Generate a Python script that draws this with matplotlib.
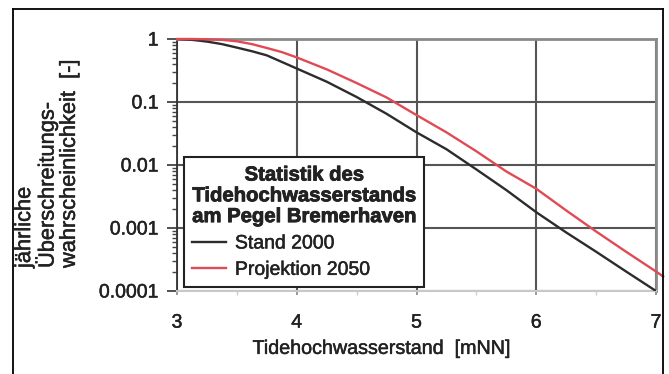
import matplotlib
matplotlib.use("Agg")
import matplotlib.pyplot as plt
import matplotlib.patheffects as pe
from matplotlib.lines import Line2D
from matplotlib.ticker import LogLocator, FixedLocator, NullFormatter

plt.rcParams['font.family'] = ['Liberation Sans', 'DejaVu Sans']

# Water level [mNN]
level = [3.0, 3.125, 3.25, 3.375, 3.5, 3.625, 3.75, 4.0, 4.25, 4.5, 4.75,
         5.0, 5.25, 5.5, 5.75, 6.0, 6.25, 6.5, 6.75, 7.0]
# Annual exceedance probability, status 2000
p_2000 = [1.0, 0.97, 0.91, 0.83, 0.73, 0.64, 0.55, 0.34, 0.21, 0.12, 0.065,
          0.033, 0.0178, 0.0085, 0.0040, 0.00178, 0.00085, 0.00042,
          0.000204, 0.0001]
# Annual exceedance probability, projection 2050
level_2050 = [3.0, 3.125, 3.25, 3.375, 3.5, 3.625, 3.75, 3.875, 4.0, 4.25,
              4.5, 4.75, 5.0, 5.25, 5.5, 5.75, 6.0, 6.25, 6.5, 6.75, 7.0,
              7.06]
p_2050 = [1.0, 1.0, 0.99, 0.97, 0.92, 0.83, 0.72, 0.62, 0.51, 0.33, 0.20,
          0.118, 0.062, 0.033, 0.0165, 0.0079, 0.0042, 0.0019, 0.00088,
          0.00042, 0.000204, 0.00017]

x_ticks = [3, 4, 5, 6, 7]
x_ticklabels = ['3', '4', '5', '6', '7']
y_ticks = [1e-4, 1e-3, 1e-2, 1e-1, 1]
y_ticklabels = ['0.0001', '0.001', '0.01', '0.1', '1']

legend_title = 'Statistik des\nTidehochwasserstands\nam Pegel Bremerhaven'
label_2000 = 'Stand 2000'
label_2050 = 'Projektion 2050'
x_label = 'Tidehochwasserstand  [mNN]'
y_label = 'jährliche\nÜberschreitungs-\nwahrscheinlichkeit  [-]'

TEXT = '#222222'
heavy = [pe.withStroke(linewidth=0.35, foreground=TEXT)]

W, H = 669, 374
fig = plt.figure(figsize=(W / 100, H / 100), dpi=100)
ax = fig.add_axes([177 / W, 1 - 291 / H, (656 - 177) / W, (291 - 39) / H])

ax.set_yscale('log')
ax.set_xlim(3, 7)
ax.set_ylim(1e-4, 1)

ax.plot(level, p_2000, color='#2c2c2c', lw=1.7, label=label_2000, zorder=3)
ax.plot(level_2050, p_2050, color='#e04a55', lw=1.7, label=label_2050,
        zorder=3, clip_on=False)

# grid and spines
ax.grid(True, which='major', color='#555555', lw=1.5, zorder=1)
ax.grid(False, which='minor')
for side in ['top', 'right']:
    ax.spines[side].set_color('#8a8a8a')
    ax.spines[side].set_linewidth(2.0)
ax.spines['bottom'].set_color('#c8c8c8')
ax.spines['bottom'].set_linewidth(1.5)
ax.spines['left'].set_color('#333333')
ax.spines['left'].set_linewidth(1.3)

ax.xaxis.set_major_locator(FixedLocator(x_ticks))
ax.set_xticklabels(x_ticklabels)
ax.xaxis.set_minor_locator(FixedLocator([3.5, 4.5, 5.5, 6.5]))
ax.yaxis.set_major_locator(FixedLocator(y_ticks))
ax.set_yticklabels(y_ticklabels)
ax.yaxis.set_minor_locator(LogLocator(base=10, subs=range(2, 10)))
ax.yaxis.set_minor_formatter(NullFormatter())

ax.tick_params(axis='y', which='major', direction='out', length=7.2,
               width=1.2, color='#333333', pad=6, labelsize=14,
               labelcolor=TEXT)
ax.tick_params(axis='y', which='minor', direction='out', length=3.5,
               width=1.0, color='#444444')
ax.tick_params(axis='x', which='major', direction='out', length=3,
               width=1.2, color='#888888', pad=14, labelsize=14,
               labelcolor=TEXT)
ax.tick_params(axis='x', which='minor', direction='out', length=3,
               width=1.0, color='#cccccc')
for t in ax.get_xticklabels() + ax.get_yticklabels():
    t.set_path_effects(heavy)

ax.set_xlabel(x_label, fontsize=14.2, color=TEXT, path_effects=heavy)
ax.xaxis.set_label_coords(0.428, -0.19)

fig.text(47 / W, 1 - 268 / H, y_label, rotation=90, ha='center', va='bottom',
         multialignment='left', fontsize=15.7, color=TEXT,
         linespacing=1.02, path_effects=heavy)

leg = ax.legend(title=legend_title, loc='lower left',
                bbox_to_anchor=(7 / 479, 4 / 252), borderaxespad=0,
                frameon=True, fancybox=False, edgecolor=TEXT,
                framealpha=1, fontsize=14,
                title_fontproperties={'weight': 'bold', 'size': 14.6},
                handlelength=1.75, handletextpad=0.45, borderpad=0.42,
                labelspacing=0.45, alignment='left')
leg.get_frame().set_linewidth(1.5)
title = leg.get_title()
title.set_multialignment('center')
title.set_linespacing(1.12)
title.set_color(TEXT)
title.set_fontweight('bold')
title.set_path_effects([pe.withStroke(linewidth=0.6, foreground=TEXT)])
for t in leg.get_texts():
    t.set_color(TEXT)
    t.set_path_effects(heavy)
leg.set_zorder(5)

# outer frame
fx0, fx1, fy1 = 13 / W, 663 / W, 1 - 9 / H
for xs, ys in [([fx0, fx0], [0, fy1]), ([fx0, fx1], [fy1, fy1]),
               ([fx1, fx1], [fy1, 0])]:
    fig.add_artist(Line2D(xs, ys, transform=fig.transFigure,
                          color='black', lw=1.3))

fig.savefig('out.png', dpi=100)
